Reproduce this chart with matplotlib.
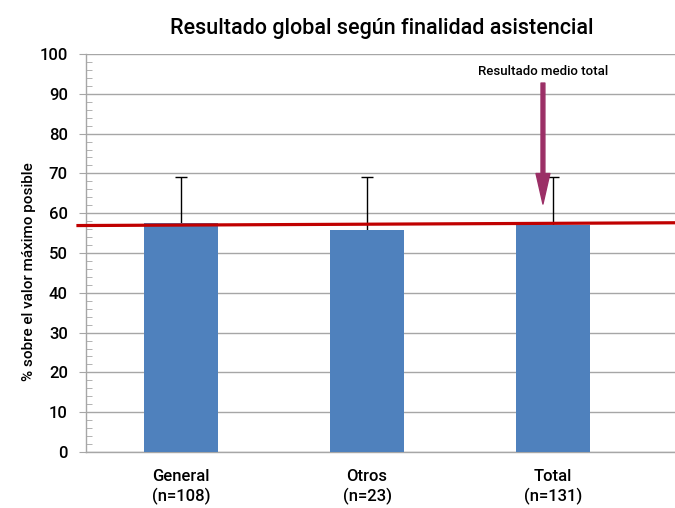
import matplotlib
matplotlib.use("Agg")
import matplotlib.pyplot as plt
from matplotlib.ticker import MultipleLocator

plt.rcParams['font.family'] = ['Roboto', 'DejaVu Sans']
plt.rcParams['font.weight'] = 'medium'

# data
categories = ["General\n(n=108)", "Otros\n(n=23)", "Total\n(n=131)"]
means = [57.6, 55.8, 57.0]
err_up = [11.6, 13.2, 12.1]          # upper error only
ref_line = [56.9, 57.6]              # "resultado medio total" line, left -> right

BAR_C = "#4f81bd"
GRID_C = "#a6a6a6"
RED = "#c00000"
ARROW_C = "#9b2f66"

fig = plt.figure(figsize=(6.75, 5.08), dpi=100)
ax = fig.add_axes([0.1274, 0.1102, 0.8726, 0.7835])

x = list(range(len(categories)))
ax.bar(x, means, width=0.4, color=BAR_C, zorder=3)
_, caps, _ = ax.errorbar(x, means, yerr=[[0] * len(x), err_up], fmt="none",
                         ecolor="black", elinewidth=1, capsize=4, capthick=1, zorder=2)
caps[0].set_visible(False)

# mean reference line, runs a little past the y axis
ax.plot([-0.554, 2.656], ref_line, color=RED, lw=2.3, clip_on=False, zorder=5)

ax.annotate("", xy=(1.946, 62.3), xytext=(1.946, 92.7),
            arrowprops=dict(facecolor=ARROW_C, edgecolor=ARROW_C,
                            width=2.8, headwidth=10, headlength=22, shrink=0), zorder=6)
ax.text(1.946, 95.5, "Resultado medio total", ha="center", va="center", fontsize=9.5)

ax.set_xlim(-0.511, 2.656)
ax.set_ylim(0, 100)
ax.yaxis.set_major_locator(MultipleLocator(10))
ax.yaxis.set_minor_locator(MultipleLocator(2))
ax.grid(axis="y", which="major", color=GRID_C, lw=1, zorder=0)
ax.set_axisbelow(True)

for s in ("top", "right"):
    ax.spines[s].set_visible(False)
for s in ("left", "bottom"):
    ax.spines[s].set_color(GRID_C)
    ax.spines[s].set_linewidth(1)

ax.tick_params(axis="y", which="major", direction="out", length=5, color=GRID_C,
               labelsize=12, pad=8)
ax.tick_params(axis="y", which="minor", direction="in", length=4, color=GRID_C)
ax.tick_params(axis="x", length=0, labelsize=12, pad=12)
ax.set_xticks(x)
ax.set_xticklabels(categories, linespacing=1.35)

ax.set_ylabel("% sobre el valor máximo posible", fontsize=11, fontweight="medium")
ax.yaxis.set_label_coords(-0.085, 0.452)
fig.suptitle("Resultado global según finalidad asistencial", fontsize=15.5,
             fontweight="medium", x=0.565, y=0.965)

fig.savefig("out.png", dpi=100)
